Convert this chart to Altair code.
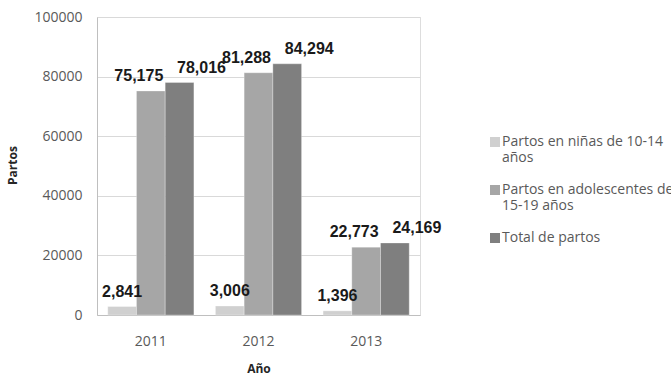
import altair as alt
import pandas as pd

# Births by year and mother's age group
years = ["2011", "2012", "2013"]
series = [
    "Partos en niñas de 10-14 años",
    "Partos en adolescentes de 15-19 años",
    "Total de partos",
]
ninas = [2841, 3006, 1396]
adolescentes = [75175, 81288, 22773]
total = [78016, 84294, 24169]

colors = ["#d0d0d0", "#a6a6a6", "#7f7f7f"]

rows = []
for serie, vals in zip(series, [ninas, adolescentes, total]):
    for year, v in zip(years, vals):
        rows.append({"Año": year, "Serie": serie, "Partos": v})
df = pd.DataFrame(rows)

# long legend labels broken over two lines
wrapped = {
    series[0]: ["Partos en niñas de 10-14", "años"],
    series[1]: ["Partos en adolescentes de", "15-19 años"],
}
label_expr = ""
for k, v in wrapped.items():
    arr = ", ".join(f"'{s}'" for s in v)
    label_expr += f"datum.label == '{k}' ? [{arr}] : "
label_expr += "datum.label"

x_enc = alt.X(
    "Año:N",
    sort=years,
    scale=alt.Scale(paddingInner=0.2, paddingOuter=0.1),
    axis=alt.Axis(
        title="Año",
        labelAngle=0,
        ticks=False,
        labelPadding=19,
        labelFont="Open Sans",
        labelFontSize=14,
        labelColor="#595959",
        domainColor="#bfbfbf",
        titleFont="Open Sans",
        titleFontSize=12,
        titleFontWeight="bold",
        titleColor="#262626",
        titleY=53,
        titleBaseline="middle",
    ),
)
xo_enc = alt.XOffset("Serie:N", sort=series, scale=alt.Scale(paddingInner=0, paddingOuter=0))
y_enc = alt.Y(
    "Partos:Q",
    scale=alt.Scale(domain=[0, 100000], nice=False),
    axis=alt.Axis(
        title="Partos",
        values=[0, 20000, 40000, 60000, 80000, 100000],
        format="d",
        ticks=False,
        labelPadding=15,
        labelFont="Open Sans",
        labelFontSize=14,
        labelColor="#595959",
        domainColor="#bfbfbf",
        gridColor="#d9d9d9",
        titleFont="Open Sans",
        titleFontSize=12,
        titleFontWeight="bold",
        titleColor="#262626",
        titleX=-85,
        titleY=148,
        titleAngle=-90,
        titleBaseline="middle",
    ),
)

base = alt.Chart(df).encode(x=x_enc, xOffset=xo_enc, y=y_enc)

bars = base.mark_bar(stroke="#ffffff", strokeWidth=0.3).encode(
    color=alt.Color(
        "Serie:N",
        sort=series,
        scale=alt.Scale(domain=series, range=colors),
        legend=alt.Legend(
            title=None,
            orient="none",
            legendX=391,
            legendY=118,
            symbolType="square",
            symbolSize=100,
            symbolStrokeWidth=0,
            labelFont="Open Sans",
            labelFontSize=14,
            labelColor="#595959",
            labelOffset=0,
            labelLimit=400,
            labelExpr=label_expr,
            rowPadding=18,
        ),
    )
)

# value labels, nudged sideways per series
shifts = [0, -12, 22]
labels = []
for serie, dx in zip(series, shifts):
    labels.append(
        base.transform_filter(alt.datum.Serie == serie)
        .mark_text(
            font="Liberation Sans",
            fontWeight="bold",
            fontSize=16,
            baseline="middle",
            dy=-15,
            dx=dx,
            color="#1a1a1a",
        )
        .encode(text=alt.Text("Partos:Q", format=","))
    )

chart = (
    alt.layer(bars, *labels)
    .properties(
        width=323,
        height=298,
        autosize=alt.AutoSizeParams(type="none"),
        padding={"left": 97, "top": 17, "right": 251, "bottom": 63},
    )
    .configure_view(stroke=None)
    .configure(background="#ffffff")
)

chart.save("out.html", embed_options={"renderer": "svg", "actions": False})
